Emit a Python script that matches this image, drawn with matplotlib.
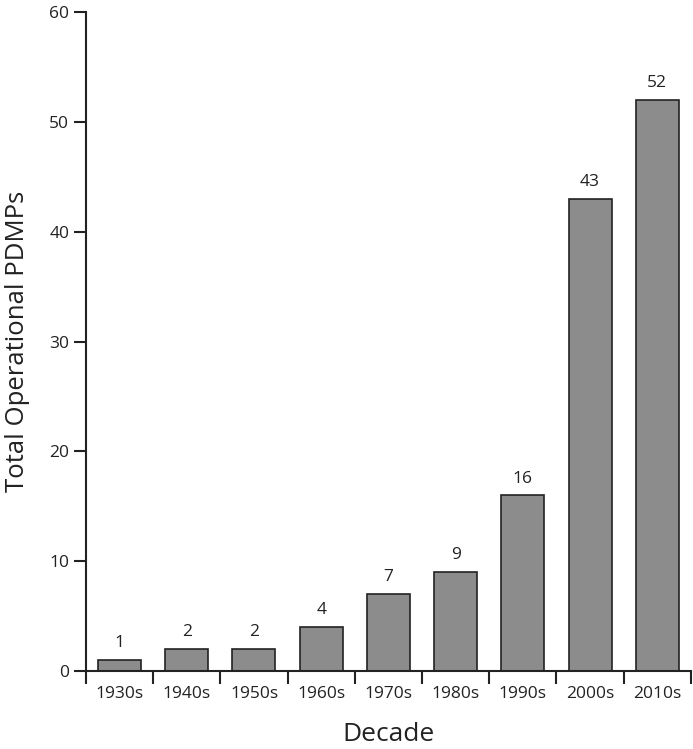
import matplotlib
matplotlib.use("Agg")
from matplotlib import pyplot as plt
import numpy as np

decadas = ["1930s", "1940s", "1950s", "1960s", "1970s", "1980s", "1990s", "2000s", "2010s"]
totais = [1, 2, 2, 4, 7, 9, 16, 43, 52]

plt.rcParams['font.family'] = ['Open Sans', 'DejaVu Sans']

fig = plt.figure(figsize=(6.93, 7.49), dpi=100)
ax = fig.add_axes([0.124, 0.104, 0.873, 0.880])

x = np.arange(len(decadas))
barras = ax.bar(x, totais, width=0.64, color="#8c8c8c", edgecolor="#222222", linewidth=1.2, zorder=2)

for xi, v in zip(x, totais):
    ax.text(xi, v + 0.8, str(v), ha="center", va="bottom", fontsize=12.5, color="#222222")

ax.set_xlim(-0.5, len(decadas) - 0.5)
ax.set_ylim(0, 60)
ax.set_yticks(range(0, 61, 10))
ax.set_xticks(x)
ax.set_xticklabels(decadas)
ax.set_xticks(np.arange(-0.5, len(decadas)), minor=True)
ax.tick_params(axis="x", which="major", length=0, pad=11, labelsize=12.5, colors="#222222")
ax.tick_params(axis="x", which="minor", length=9, width=1.5, direction="out", color="#222222")
ax.tick_params(axis="y", length=9, width=1.5, direction="out", labelsize=12.5, pad=3, colors="#222222")

for lado in ["top", "right"]:
    ax.spines[lado].set_visible(False)
for lado in ["left", "bottom"]:
    ax.spines[lado].set_linewidth(1.5)
    ax.spines[lado].set_color("#222222")

ax.set_xlabel("Decade", fontsize=19, labelpad=14, color="#222222")
ax.set_ylabel("Total Operational PDMPs", fontsize=18.5, labelpad=14, color="#222222")

fig.savefig("out.png", dpi=100)
